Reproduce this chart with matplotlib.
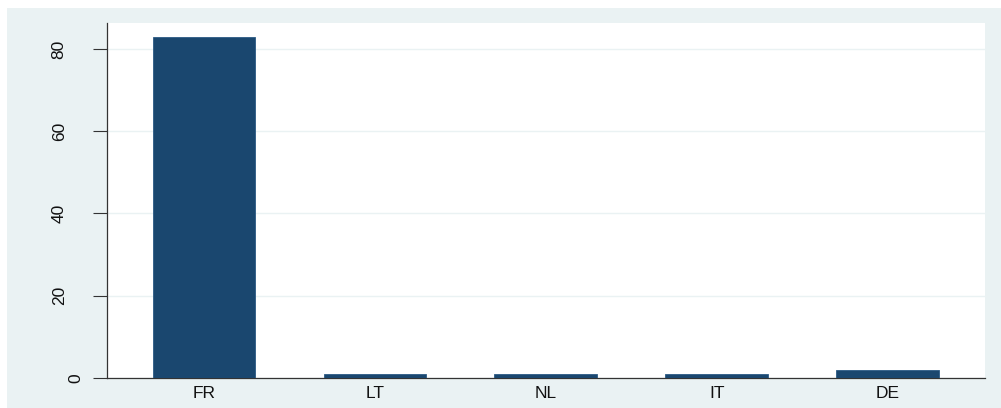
import matplotlib.pyplot as plt
from matplotlib.transforms import ScaledTranslation

# bar data
countries = ["FR", "LT", "NL", "IT", "DE"]
counts = [83, 1, 1, 1, 2]
yticks = [0, 20, 40, 60, 80]

bg = "#eaf2f3"
navy = "#1a476f"

plt.rcParams["font.family"] = ["Liberation Sans", "DejaVu Sans"]

fig = plt.figure(figsize=(10.01, 4.08), dpi=100)
fig.patch.set_facecolor("white")

# light panel behind the plot (Stata style)
panel = fig.add_axes([7 / 1001, 0, 1 - 7 / 1001, 1 - 8 / 408])
panel.set_facecolor(bg)
panel.set_xticks([])
panel.set_yticks([])
for s in panel.spines.values():
    s.set_visible(False)

ax = fig.add_axes([107 / 1001, 1 - 378 / 408, (985 - 107) / 1001, (378 - 23) / 408])
ax.set_facecolor("white")
x = range(len(countries))
ax.bar(x, counts, width=0.6, color=navy, edgecolor="#2b5a84", linewidth=0.6, zorder=3)

ax.set_xlim(-0.567, 4.57)
ax.set_ylim(0, 86.3)
ax.set_xticks(list(x))
ax.set_xticklabels(countries, fontsize=12.5, color="#111111")
ax.set_yticks(yticks)
ax.set_yticklabels([str(v) for v in yticks], fontsize=12.5, rotation=90,
                   va="center", color="#111111")
ax.tick_params(axis="x", length=0, pad=6)
ax.tick_params(axis="y", length=10, width=0.8, color="#333333", pad=19)

# single-digit label sits closer to the axis, as in the original
for lab in ax.get_yticklabels():
    if lab.get_text() == "0":
        lab.set_transform(lab.get_transform() + ScaledTranslation(0.17, 0, fig.dpi_scale_trans))

ax.grid(axis="y", color=bg, linewidth=1, zorder=0)

for side in ["top", "right"]:
    ax.spines[side].set_visible(False)
ax.spines["left"].set_color("#333333")
ax.spines["bottom"].set_color("#333333")
ax.spines["left"].set_linewidth(0.9)
ax.spines["bottom"].set_linewidth(0.9)

fig.savefig("out.png", dpi=100)
